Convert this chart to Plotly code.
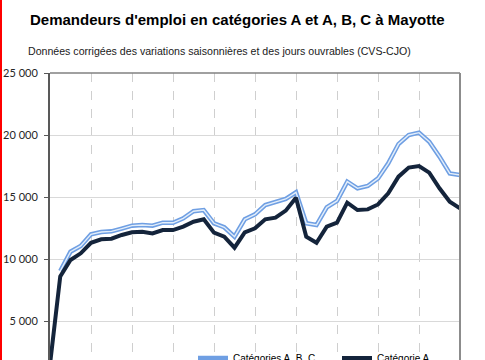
import plotly.graph_objects as go

# Quarterly categories (labels are hidden in the crop)
quarters = [f"{y} T{q}" for y in range(2010, 2021) for q in range(1, 5)][:41]

# Catégorie A
cat_a = [1500, 8600, 9920, 10460, 11310, 11590, 11640, 11940, 12150, 12200,
         12060, 12340, 12330, 12610, 13010, 13200, 12120, 11800, 10910, 12150,
         12470, 13200, 13330, 13900, 14940, 11800, 11310, 12610, 12930, 14540,
         13950, 14000, 14400, 15300, 16640, 17370, 17500, 16960, 15700, 14620,
         14090]

# Catégories A, B, C
cat_abc = [None, 9030, 10590, 11050, 11990, 12180, 12230, 12450, 12690, 12740,
           12690, 12930, 12920, 13280, 13850, 13950, 12880, 12560, 11800, 13200,
           13600, 14350, 14570, 14840, 15380, 12880, 12740, 14170, 14680, 16240,
           15700, 15890, 16500, 17720, 19270, 20000, 20190, 19460, 18250, 16900,
           16770]

y_ticks = [5000, 10000, 15000, 20000, 25000]
y_tick_labels = ["5 000", "10 000", "15 000", "20 000", "25 000"]

title = "Demandeurs d'emploi en catégories A et A, B, C à Mayotte"
subtitle = "Données corrigées des variations saisonnières et des jours ouvrables (CVS-CJO)"

fig = go.Figure()
fig.add_trace(go.Scatter(x=quarters, y=cat_abc, mode="lines", name="Catégories A, B, C",
                         line=dict(color="#6f9fe3", width=4.5), legend="legend",
                         hoverinfo="skip"))
fig.add_trace(go.Scatter(x=quarters, y=cat_abc, mode="lines", showlegend=False,
                         line=dict(color="#e3eefa", width=1.4), hoverinfo="skip"))
fig.add_trace(go.Scatter(x=quarters, y=cat_a, mode="lines", name="Catégorie A",
                         line=dict(color="#14243b", width=4), legend="legend2"))

L, R, T, B = 50, 25, 73, 0
W, H = 485, 360
pw, ph = W - L - R, H - T - B

def px_x(p):
    return (p - L) / pw

def px_y(p):
    return (H - B - p) / ph

fig.update_layout(
    width=W, height=H,
    margin=dict(l=L, r=R, t=T, b=B, autoexpand=False),
    paper_bgcolor="white", plot_bgcolor="white",
    font=dict(family="Liberation Sans, Arial, sans-serif", color="#000000"),
    legend=dict(orientation="h", x=px_x(193), y=px_y(358), xanchor="left", yanchor="middle",
                font=dict(size=10, family="Liberation Sans, Arial, sans-serif"),
                bgcolor="rgba(0,0,0,0)"),
    legend2=dict(orientation="h", x=px_x(337), y=px_y(358), xanchor="left", yanchor="middle",
                 font=dict(size=10, family="Liberation Sans, Arial, sans-serif"),
                 bgcolor="rgba(0,0,0,0)"),
    xaxis=dict(type="category", range=[0, 40], showticklabels=False, ticks="",
               showgrid=True, gridcolor="#cfcfcf", gridwidth=1, griddash="dash",
               tickmode="linear", tick0=0, dtick=4, showline=False, zeroline=False),
    yaxis=dict(range=[1855, 25000], tickvals=y_ticks, ticktext=y_tick_labels,
               showgrid=True, gridcolor="#d9d9d9", gridwidth=1, zeroline=False,
               showline=True, linecolor="#595959", linewidth=2,
               ticks="outside", ticklen=4, tickcolor="#595959", tickwidth=1,
               ticklabelstandoff=4,
               tickfont=dict(family="Lato, Carlito, sans-serif", size=11, color="#262626")),
    showlegend=True,
    annotations=[
        dict(text=f"<b>{title}</b>", xref="paper", yref="paper", x=px_x(28), y=px_y(20),
             xanchor="left", yanchor="middle", showarrow=False,
             font=dict(size=15, family="Liberation Sans, Arial, sans-serif", color="#000000")),
        dict(text=subtitle, xref="paper", yref="paper", x=px_x(26), y=px_y(51),
             xanchor="left", yanchor="middle", showarrow=False,
             font=dict(size=10.6, family="Liberation Sans, Arial, sans-serif", color="#1a1a1a")),
    ],
    shapes=[
        dict(type="line", xref="paper", yref="paper", x0=0, x1=1, y0=1, y1=1,
             line=dict(color="#808080", width=1.5)),
        dict(type="line", xref="paper", yref="paper", x0=1, x1=1, y0=0, y1=1,
             line=dict(color="#8c8c8c", width=2)),
        dict(type="line", xref="paper", yref="paper", x0=px_x(1), x1=px_x(1), y0=-0.01, y1=1.3,
             line=dict(color="#ff0000", width=2)),
    ],
)

fig.write_html("out.html", config={"displayModeBar": False},
               post_script="document.body.style.margin='0';document.body.style.overflow='hidden';")
